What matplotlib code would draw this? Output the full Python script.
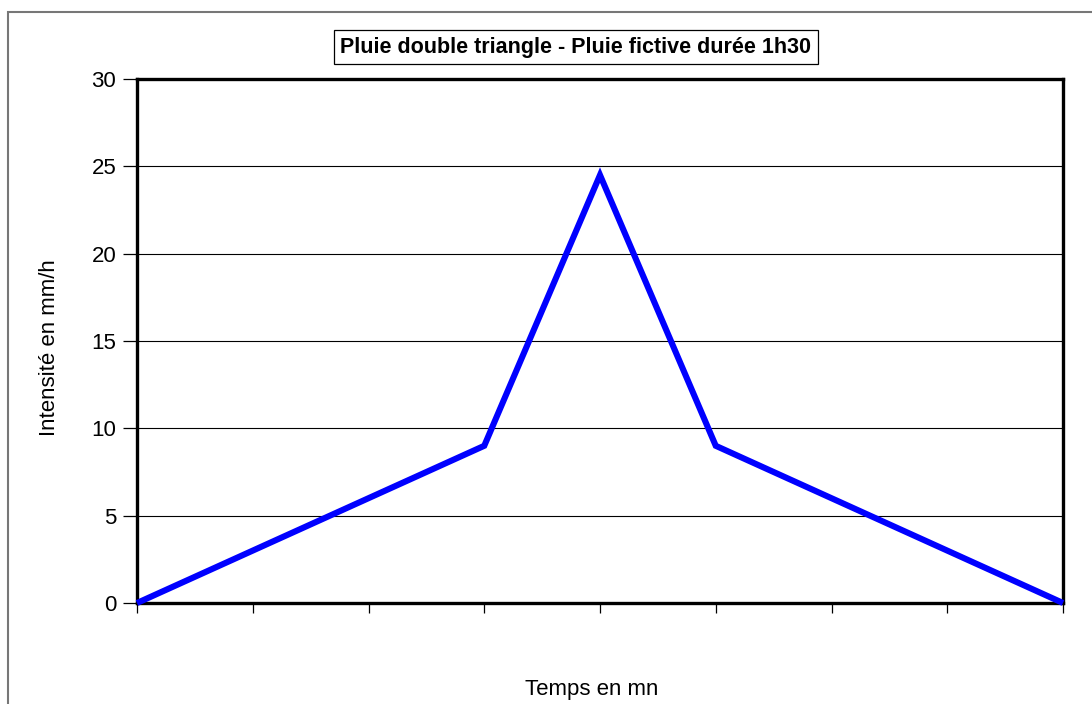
import matplotlib.pyplot as plt
from matplotlib.patches import Rectangle

plt.rcParams['font.family'] = ['Liberation Sans', 'DejaVu Sans']

# data
steps = [0, 1, 2, 3, 4, 5, 6, 7, 8]
intensity = [0, 3, 6, 9, 24.5, 9, 6, 3, 0]
y_ticks = [0, 5, 10, 15, 20, 25, 30]

title = "Pluie double triangle - Pluie fictive durée 1h30"
xlabel = "Temps en mn"
ylabel = "Intensité en mm/h"

fig = plt.figure(figsize=(10.92, 7.04), dpi=100)
ax = fig.add_axes([137 / 1092, 1 - 603 / 704, (1063 - 137) / 1092, (603 - 79) / 704])

# outer chart-area frame (runs off the right and bottom edges)
fig.patches.append(Rectangle((8 / 1092, -0.1), 2, 1 - 12 / 704 + 0.1,
                             transform=fig.transFigure, fill=False,
                             edgecolor='#777777', lw=1.5))

for v in y_ticks[1:-1]:
    ax.axhline(v, color='black', lw=0.8, zorder=1)

ax.plot(steps, intensity, color='#0000FF', lw=4.4, solid_capstyle='butt',
        solid_joinstyle='miter', zorder=3, clip_on=False)

ax.set_xlim(steps[0], steps[-1])
ax.set_ylim(y_ticks[0], y_ticks[-1])
ax.set_xticks(steps)
ax.set_xticklabels([])
ax.set_yticks(y_ticks)
ax.tick_params(axis='y', direction='out', length=10, width=0.9, labelsize=16, pad=5)
ax.tick_params(axis='x', direction='out', length=7, width=0.9)
for s in ax.spines.values():
    s.set_linewidth(2.4)
    s.set_color('black')

fig.text(50 / 1092, 1 - 348 / 704, ylabel, ha='center', va='center',
         rotation=90, fontsize=16)
fig.text(592 / 1092, 1 - 690 / 704, xlabel, ha='center', va='center', fontsize=16)
fig.text(576 / 1092, 1 - 47 / 704, title, ha='center', va='center',
         fontsize=15.5, fontweight='bold',
         bbox=dict(boxstyle='square,pad=0.3', facecolor='white',
                   edgecolor='black', lw=0.9))

fig.savefig('out.png', dpi=100)
